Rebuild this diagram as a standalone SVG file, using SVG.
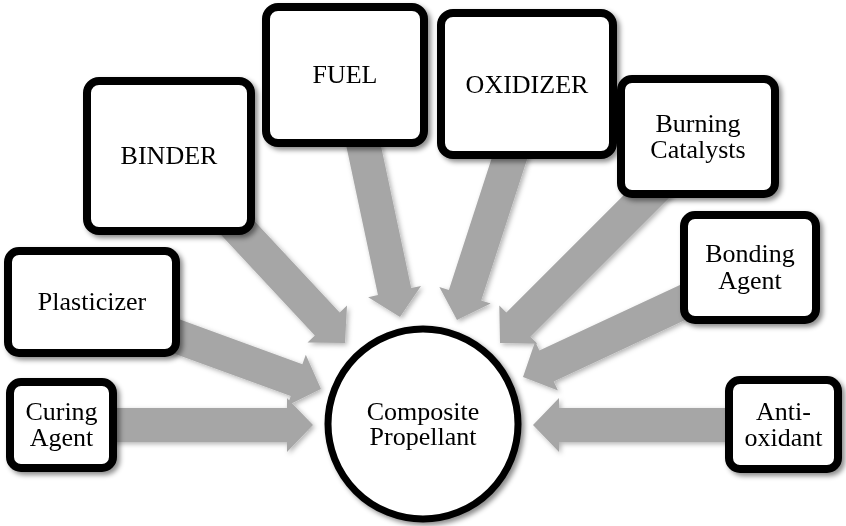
<svg xmlns="http://www.w3.org/2000/svg" width="846" height="526" viewBox="0 0 846 526">
  <style>
    .box { fill: #ffffff; stroke: #000000; stroke-width: 8; }
    .circ { fill: #ffffff; stroke: #000000; stroke-width: 7; }
    .arrow { fill: #a6a6a6; }
    .lbl { font-family: "Liberation Serif", "Times New Roman", serif; font-size: 26px; fill: #000000; text-anchor: middle; }
  </style>
  <defs>
    <filter id="sh" x="-20%" y="-20%" width="140%" height="140%">
      <feDropShadow dx="3" dy="3" stdDeviation="2.5" flood-color="#000000" flood-opacity="0.45"/>
    </filter>
    <filter id="ash" x="-20%" y="-20%" width="140%" height="140%">
      <feDropShadow dx="2" dy="2" stdDeviation="2.5" flood-color="#000000" flood-opacity="0.3"/>
    </filter>
  </defs>

  <g id="connectors" filter="url(#ash)">
    <polygon class="arrow" transform="translate(313,425) rotate(0)" points="0,0 -26,-27 -26,-17 -220,-17 -220,17 -26,17 -26,27"/>
    <polygon class="arrow" transform="translate(321,389) rotate(20)" points="0,0 -26,-27 -26,-17 -165,-17 -165,17 -26,17 -26,27"/>
    <polygon class="arrow" transform="translate(345,343) rotate(47)" points="0,0 -26,-27 -26,-17 -175,-17 -175,17 -26,17 -26,27"/>
    <polygon class="arrow" transform="translate(400,317) rotate(78)" points="0,0 -26,-27 -26,-17 -185,-17 -185,17 -26,17 -26,27"/>
    <polygon class="arrow" transform="translate(457,320) rotate(108)" points="0,0 -26,-27 -26,-17 -180,-17 -180,17 -26,17 -26,27"/>
    <polygon class="arrow" transform="translate(500,343) rotate(135)" points="0,0 -26,-27 -26,-17 -230,-17 -230,17 -26,17 -26,27"/>
    <polygon class="arrow" transform="translate(523,377) rotate(155)" points="0,0 -26,-27 -26,-17 -190,-17 -190,17 -26,17 -26,27"/>
    <polygon class="arrow" transform="translate(533,425) rotate(180)" points="0,0 -26,-27 -26,-17 -212,-17 -212,17 -26,17 -26,27"/>
  </g>

  <g id="curing-agent" filter="url(#sh)">
    <rect class="box" x="10" y="382" width="103" height="86" rx="11"/>
    <text class="lbl" x="61.5" y="420">Curing<tspan x="61.5" dy="26">Agent</tspan></text>
  </g>

  <g id="plasticizer" filter="url(#sh)">
    <rect class="box" x="8" y="251" width="168" height="102" rx="11"/>
    <text class="lbl" x="92" y="310">Plasticizer</text>
  </g>

  <g id="binder" filter="url(#sh)">
    <rect class="box" x="87" y="81" width="164" height="150" rx="12"/>
    <text class="lbl" x="169" y="164">BINDER</text>
  </g>

  <g id="fuel" filter="url(#sh)">
    <rect class="box" x="266" y="7" width="158" height="136" rx="12"/>
    <text class="lbl" x="345" y="83">FUEL</text>
  </g>

  <g id="oxidizer" filter="url(#sh)">
    <rect class="box" x="441" y="13" width="172" height="142" rx="12"/>
    <text class="lbl" x="527" y="93">OXIDIZER</text>
  </g>

  <g id="burning-catalysts" filter="url(#sh)">
    <rect class="box" x="621" y="79" width="154" height="115" rx="11"/>
    <text class="lbl" x="698" y="132">Burning<tspan x="698" dy="26">Catalysts</tspan></text>
  </g>

  <g id="bonding-agent" filter="url(#sh)">
    <rect class="box" x="684" y="215" width="132" height="105" rx="11"/>
    <text class="lbl" x="750" y="262">Bonding<tspan x="750" dy="27">Agent</tspan></text>
  </g>

  <g id="anti-oxidant" filter="url(#sh)">
    <rect class="box" x="729" y="380" width="109" height="89" rx="11"/>
    <text class="lbl" x="783.5" y="420">Anti-<tspan x="783.5" dy="26">oxidant</tspan></text>
  </g>

  <g id="composite-propellant" filter="url(#sh)">
    <circle class="circ" cx="423" cy="424" r="95"/>
    <text class="lbl" x="423" y="420">Composite<tspan x="423" dy="25">Propellant</tspan></text>
  </g>
</svg>
